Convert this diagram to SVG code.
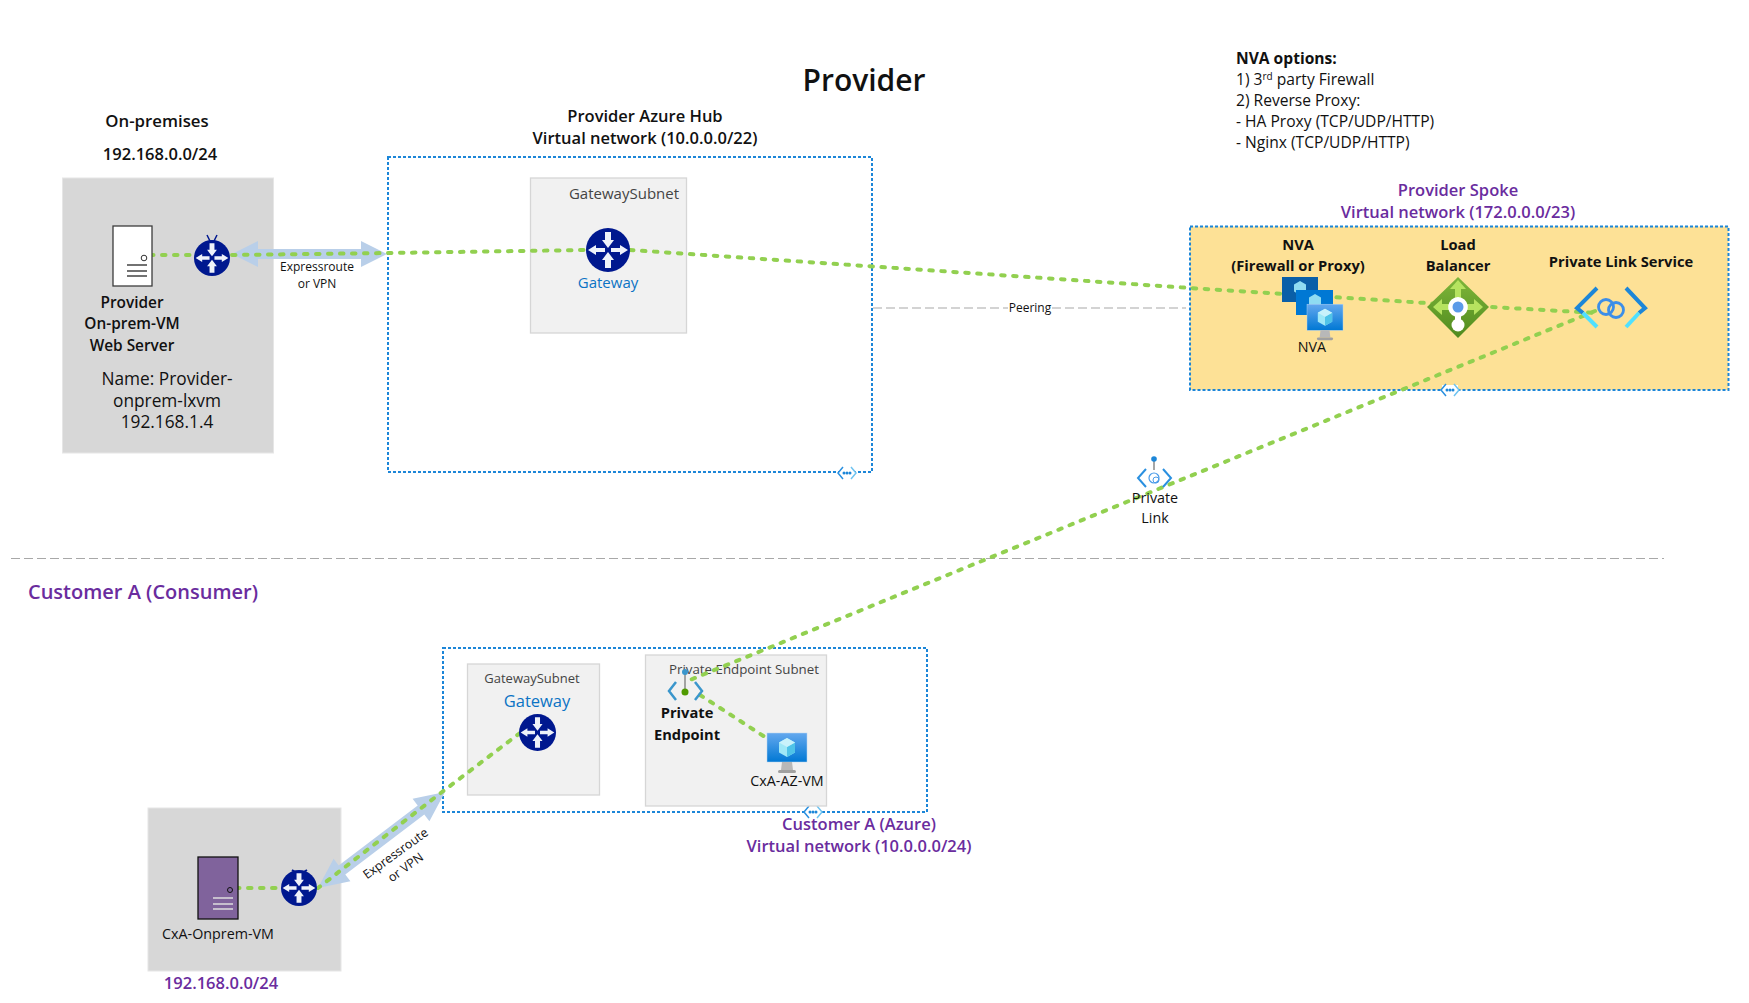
<svg xmlns="http://www.w3.org/2000/svg" width="1749" height="1003" viewBox="0 0 1749 1003">
<style>
text{font-family:"Open Sans","Noto Sans","Liberation Sans",sans-serif;fill:#111;text-anchor:middle}
.st{text-anchor:start}
.opt{font-size:15.600px}.h{font-size:16.500px;font-weight:600}
.p{fill:#6a2c9e;font-weight:600;font-size:16.500px}
.body{font-size:17.300px}
.lab{font-size:14.700px;font-weight:700}
.srv{font-size:15.400px;font-weight:600}
.s12{font-size:12px}.s13{font-size:13.300px}.s14{font-size:14.300px}
.blue{fill:#0b73c4}.g{fill:#444}
.vnet{fill:none;stroke:#1c86d8;stroke-width:2;stroke-dasharray:3 2}
.sub{fill:#f1f1f1;stroke:#d6d6d6;stroke-width:1.300}
.onp{fill:#d7d7d7;stroke:#e6e6e6}
.link{fill:none;stroke:#92d050;stroke-width:4;stroke-dasharray:3.500 8.500;stroke-linecap:round}
.pipe{fill:#b9cfe9}
.div{fill:none;stroke:#a8a8a8;stroke-width:1.200;stroke-dasharray:9 4}
</style>
<defs>
<symbol id="router" viewBox="-22 -22 44 44" overflow="visible">
<circle r="22" fill="#00188f"/>
<g fill="#eef2fa">
<path d="M-3 -18H3V-10H6L0 -2L-6 -10H-3Z"/>
<path d="M-3 18H3V10H6L0 2L-6 10H-3Z"/>
<path d="M-20 0L-12 -5V-2H-3V2H-12V5Z"/>
<path d="M20 0L12 -5V-2H3V2H12V5Z"/>
</g>
</symbol>
<symbol id="vm" viewBox="0 0 40 44" overflow="visible">
<rect x="0" y="0" width="40" height="29" fill="url(#scr)" stroke="#b9d6f2" stroke-width=".5"/>
<path d="M20 5L28 9.500V19.500L20 24L12 19.500V9.500Z" fill="#9fe8f7"/>
<path d="M20 14L28 9.500V19.500L20 24Z" fill="#4fc3e8"/>
<path d="M20 5L28 9.500L20 14L12 9.500Z" fill="#c9f2fb"/>
<path d="M15 29H25L26 37H14Z" fill="#b8b8b8"/>
<rect x="11" y="37" width="18" height="3" rx="1.500" fill="#a0a0a0"/>
</symbol>
<linearGradient id="scr" x1="0" y1="0" x2="0" y2="1"><stop offset="0" stop-color="#64a8ee"/><stop offset="1" stop-color="#0078d4"/></linearGradient>
<linearGradient id="lb" x1="0" y1="0" x2="0" y2="1"><stop offset="0" stop-color="#7fb63a"/><stop offset="1" stop-color="#4f8a1e"/></linearGradient>
<symbol id="vn" viewBox="-10 -7 20 14" overflow="visible">
<rect x="-8" y="-5" width="16" height="10" fill="#fff"/>
<path d="M-4 -6L-9 0L-4 6" fill="none" stroke="#2a90e0" stroke-width="1.500"/>
<path d="M4 -6L9 0L4 6" fill="none" stroke="#6fc3f0" stroke-width="1.500"/>
<circle cx="-3" r="1.500" fill="#1c86d8"/><circle r="1.500" fill="#1c86d8"/><circle cx="3" r="1.500" fill="#1c86d8"/>
</symbol>
</defs>
<rect width="1749" height="1003" fill="#fff"/>

<g id="titles">
<text x="864" y="91" style="font-size:30px;font-weight:600">Provider</text>
<text x="1236" y="64" class="opt st" font-weight="700">NVA options:</text>
<text x="1236" y="85" class="opt st">1) 3<tspan dy="-5" font-size="10">rd</tspan><tspan dy="5"> party Firewall</tspan></text>
<text x="1236" y="106" class="opt st">2) Reverse Proxy:</text>
<text x="1236" y="127" class="opt st">- HA Proxy (TCP/UDP/HTTP)</text>
<text x="1236" y="148" class="opt st">- Nginx (TCP/UDP/HTTP)</text>
<text x="157" y="127" class="h" style="font-size:16.800px">On-premises</text>
<text x="160" y="160" class="h">192.168.0.0/24</text>
<text x="143" y="599" style="font-size:20px;font-weight:600;fill:#6a2c9e">Customer A (Consumer)</text>
</g>

<g id="divider"><path class="div" d="M11 558.500H1664"/></g>

<g id="onprem-provider"><rect class="onp" x="62.500" y="178" width="211" height="275"/></g>
<g id="hub-vnet"><rect class="vnet" x="388" y="157" width="484" height="315"/><use href="#vn" x="837" y="466" width="20" height="14"/>
<text x="645" y="122" class="h">Provider Azure Hub</text>
<text x="645" y="144" class="h">Virtual network (10.0.0.0/22)</text></g>
<g id="hub-gateway-subnet"><rect class="sub" x="530.500" y="178" width="156" height="155"/>
<text x="624" y="199" class="g" font-size="15">GatewaySubnet</text></g>
<g id="spoke-vnet"><rect x="1190" y="226.500" width="538.500" height="163.500" fill="#fde196"/><rect class="vnet" x="1190" y="226.500" width="538.500" height="163.500"/><use href="#vn" x="1440" y="383" width="20" height="14"/>
<text x="1458" y="196" class="p">Provider Spoke</text>
<text x="1458" y="218" class="p">Virtual network (172.0.0.0/23)</text></g>
<g id="cust-vnet"><rect class="vnet" x="443" y="648" width="484" height="164"/><use href="#vn" x="803" y="805" width="20" height="14"/>
<text x="859" y="830" class="p">Customer A (Azure)</text>
<text x="859" y="852" class="p">Virtual network (10.0.0.0/24)</text></g>
<g id="cust-gateway-subnet"><rect class="sub" x="467.500" y="664" width="132" height="131"/>
<text x="532" y="683" class="s13 g" style="font-size:13px">GatewaySubnet</text></g>
<g id="pe-subnet"><rect class="sub" x="645.500" y="655" width="181" height="151"/>
<text x="744" y="674" class="s13 g">Private Endpoint Subnet</text></g>
<g id="onprem-customer"><rect class="onp" x="148" y="808" width="193" height="163"/>
<text x="221" y="989" class="h" style="fill:#6a2c9e">192.168.0.0/24</text></g>

<g id="connectors">
<path class="pipe" d="M232 254L258 241V249H361V241L387 254L361 267V259H258V267Z"/>
<path class="pipe" d="M318 888L350.400 881.200L345.300 874.400L424.300 814.400L429.400 821.200L445 792L412.600 798.800L417.700 805.600L338.700 865.600L333.600 858.800Z"/>
<path class="div" d="M873 308H1008M1052 308H1186"/>
<text x="1030" y="312" class="s12">Peering</text>
<text x="317" y="271" class="s12">Expressroute</text>
<text x="317" y="288" class="s12">or VPN</text>
<g transform="translate(398,857) rotate(-36)"><text x="0" y="0" class="s12" style="font-size:12.500px">Expressroute</text><text x="0" y="17" class="s12" style="font-size:12.500px">or VPN</text></g>
<path class="link" d="M150 255H195M232 255L388 253L585 250M630 250L1190 288L1426 303L1491 307L1597 313"/>
<path class="link" d="M1595 311L685 682"/>
<path class="link" d="M700 695L765 737"/>
<path class="link" d="M520 733L442 792L318 888"/>
<path class="link" d="M236 888H280"/>
</g>

<g id="provider-server"><rect x="113" y="226" width="39" height="60" fill="#fff" stroke="#3c3c3c" stroke-width="1.300"/><circle cx="144" cy="258" r="2.800" fill="#fff" stroke="#333" stroke-width="1"/><path d="M127 265H147M127 271H147M127 276H147" stroke="#444" stroke-width="1.500"/>
<text x="132" y="308" class="srv">Provider</text>
<text x="132" y="329" class="srv">On-prem-VM</text>
<text x="132" y="351" class="srv">Web Server</text>
<text x="167" y="385" class="body">Name: Provider-</text>
<text x="167" y="407" class="body">onprem-lxvm</text>
<text x="167" y="428" class="body">192.168.1.4</text></g>
<g id="provider-router"><path d="M207 235L212 245L217 235" fill="none" stroke="#00188f" stroke-width="1.500"/><use href="#router" x="194" y="240" width="36" height="36"/></g>
<g id="hub-gateway"><use href="#router" x="586" y="228" width="44" height="44"/><text x="608" y="288" class="blue" font-size="15">Gateway</text></g>

<g id="nva"><text x="1298" y="250" class="lab">NVA</text><text x="1298" y="271" class="lab">(Firewall or Proxy)</text>
<rect x="1282" y="277" width="36" height="25" fill="#0a5fa8"/><path d="M1300 281l6 3.500v7l-6 3.500-6-3.500v-7z" fill="#8fdcf2"/>
<rect x="1296" y="290" width="37" height="25" fill="#0078d4"/><path d="M1315 294l6 3.500v7l-6 3.500-6-3.500v-7z" fill="#8fdcf2"/>
<use href="#vm" x="1307" y="304" width="36" height="40"/>
<text x="1312" y="352" class="s14">NVA</text></g>

<g id="lb"><text x="1458" y="250" class="lab">Load</text><text x="1458" y="271" class="lab">Balancer</text>
<path d="M1458 277L1489 307L1458 338L1427 307Z" fill="url(#lb)"/>
<path d="M1458 280L1450 289H1455V303H1461V289H1466ZM1433 307L1442 299V304H1474V299L1483 307L1474 315V310H1442V315Z" fill="#b6e35f"/>
<path d="M1458 297a10 10 0 0 1 3 19.500V323H1455V316.500A10 10 0 0 1 1458 297Z" fill="#fff"/>
<circle cx="1458" cy="325" r="6.500" fill="#fff"/><circle cx="1458" cy="307" r="5.500" fill="#5b9be8"/></g>

<g id="pls"><text x="1621" y="267" class="lab">Private Link Service</text>
<path d="M1597 288L1577 308L1583 313" fill="none" stroke="#1c86d8" stroke-width="4"/><path d="M1583 313L1597 327" fill="none" stroke="#50e0ff" stroke-width="4"/>
<path d="M1626 288L1645 308L1639 313" fill="none" stroke="#1c86d8" stroke-width="4"/><path d="M1639 313L1626 327" fill="none" stroke="#50e0ff" stroke-width="4"/>
<circle cx="1606" cy="307" r="7.500" fill="none" stroke="#3c8ee8" stroke-width="2.800"/><circle cx="1616" cy="310" r="7.500" fill="none" stroke="#3c8ee8" stroke-width="2.800"/></g>

<g id="private-link"><path d="M1154 459V470" stroke="#888" stroke-width="1.500"/><circle cx="1154" cy="459" r="2.800" fill="#1c86d8"/>
<path d="M1146 469L1138 478L1146 487" fill="none" stroke="#2a90e0" stroke-width="2"/><path d="M1163 469L1171 478L1163 487" fill="none" stroke="#2a90e0" stroke-width="2"/>
<circle cx="1154" cy="478" r="5" fill="none" stroke="#4a9be8" stroke-width="1.200"/><circle cx="1156" cy="480" r="3" fill="none" stroke="#4a9be8" stroke-width="1"/>
<text x="1155" y="503" class="s14">Private</text><text x="1155" y="523" class="s14">Link</text></g>

<g id="cust-gateway"><text x="537" y="707" class="blue" font-size="16.500">Gateway</text><use href="#router" x="519" y="714" width="37" height="37"/></g>
<g id="private-endpoint"><path d="M685 672V692" stroke="#888" stroke-width="1.500"/><circle cx="685" cy="672" r="3" fill="#3a96cc"/>
<path d="M676 682L669 691L676 700M695 682L702 691L695 700" fill="none" stroke="#3a96cc" stroke-width="2.500"/><circle cx="685" cy="692" r="3.500" fill="#4f9a00"/>
<text x="687" y="718" class="lab">Private</text><text x="687" y="740" class="lab">Endpoint</text></g>
<g id="cxa-az-vm"><use href="#vm" x="767" y="733" width="40" height="44"/><text x="787" y="786" class="s14">CxA-AZ-VM</text></g>
<g id="cxa-onprem-vm"><rect x="198" y="857" width="40" height="62" fill="#80639c" stroke="#111" stroke-width="1.300"/><circle cx="230" cy="890" r="2.500" fill="none" stroke="#111"/><path d="M213 898H233M213 904H233M213 909H233" stroke="#ddd" stroke-width="1.500"/><text x="218" y="939" class="s14">CxA-Onprem-VM</text></g>
<g id="cxa-router"><path d="M292 870L297 873H302L307 870" fill="none" stroke="#00188f" stroke-width="2"/><use href="#router" x="281" y="870" width="36" height="36"/></g>
</svg>
